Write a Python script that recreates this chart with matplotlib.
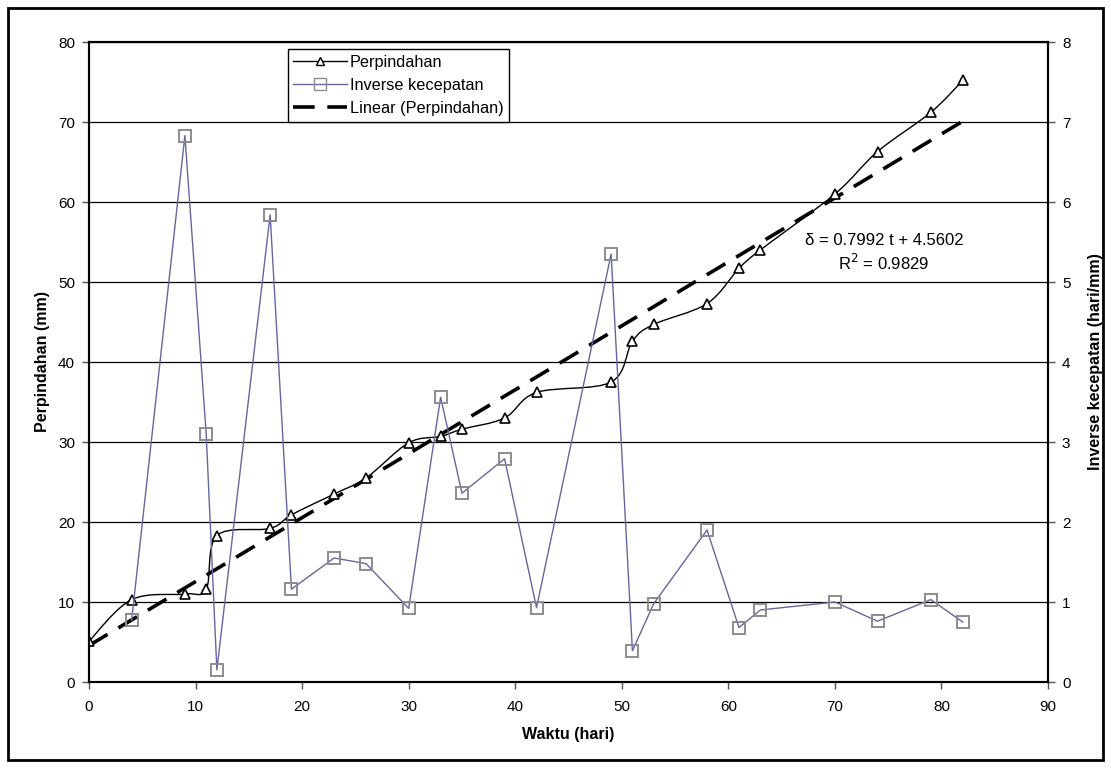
import matplotlib
matplotlib.use("Agg")
import matplotlib.pyplot as plt
import numpy as np
from matplotlib.path import Path
from matplotlib.patches import PathPatch, Rectangle
from matplotlib.lines import Line2D

plt.rcParams['font.family'] = ['Liberation Sans', 'DejaVu Sans']

# Data
t_perp = [0, 4, 9, 11, 12, 17, 19, 23, 26, 30, 33, 35, 39, 42, 49, 51, 53, 58, 61, 63, 70, 74, 79, 82]
perpindahan = [5.1, 10.3, 11.0, 11.6, 18.3, 19.2, 20.9, 23.5, 25.5, 29.9, 30.7, 31.6, 33.0, 36.2,
               37.5, 42.6, 44.7, 47.3, 51.7, 54.0, 61.0, 66.3, 71.2, 75.2]
t_inv = [4, 9, 11, 12, 17, 19, 23, 26, 30, 33, 35, 39, 42, 49, 51, 53, 58, 61, 63, 70, 74, 79, 82]
inverse_kecepatan = [0.77, 6.83, 3.10, 0.15, 5.84, 1.16, 1.55, 1.48, 0.92, 3.56, 2.36, 2.79, 0.93,
                     5.35, 0.39, 0.98, 1.90, 0.68, 0.90, 1.00, 0.76, 1.03, 0.75]
slope, intercept = 0.7992, 4.5602
trend_t = [0, 82]

fig = plt.figure(figsize=(11.11, 7.68), dpi=100)
ax = fig.add_axes([89/1111, 86/768, 959/1111, 640/768])
ax2 = ax.twinx()

# outer chart border
fig.patches.append(Rectangle((8/1111, 8/768), 1095/1111, 752/768, transform=fig.transFigure,
                             fill=False, edgecolor='black', linewidth=2.0))

ax.set_xlim(0, 90)
ax.set_ylim(0, 80)
ax2.set_ylim(0, 8)
ax.set_xticks(np.arange(0, 91, 10))
ax.set_yticks(np.arange(0, 81, 10))
ax2.set_yticks(np.arange(0, 9, 1))
ax.grid(axis='y', color='black', linewidth=0.9)
ax.set_axisbelow(True)

# smoothed Perpindahan line (Catmull-Rom style Bezier, like Excel smoothing)
x = np.array(t_perp, float); y = np.array(perpindahan, float)
n = len(x)
verts = [(x[0], y[0])]; codes = [Path.MOVETO]
for i in range(n - 1):
    p0 = np.array([x[max(i-1, 0)], y[max(i-1, 0)]])
    p1 = np.array([x[i], y[i]])
    p2 = np.array([x[i+1], y[i+1]])
    p3 = np.array([x[min(i+2, n-1)], y[min(i+2, n-1)]])
    c1 = p1 + (p2 - p0) / 6
    c2 = p2 - (p3 - p1) / 6
    verts += [tuple(c1), tuple(c2), tuple(p2)]
    codes += [Path.CURVE4] * 3
ax.add_patch(PathPatch(Path(verts, codes), fill=False, edgecolor='black', linewidth=1.0, zorder=3))
ax.plot(t_perp, perpindahan, linestyle='none', marker='^', markersize=7.5, markerfacecolor='white',
        markeredgecolor='black', markeredgewidth=1.2, zorder=4)

# trend line
ax.plot(trend_t, [slope * v + intercept for v in trend_t], color='black', linewidth=2.6,
        dashes=(6, 3.5), zorder=3)

# Inverse kecepatan
ax2.plot(t_inv, inverse_kecepatan, color='#6666A0', linewidth=1.0, marker='s', markersize=9,
         markerfacecolor='none', markeredgecolor='#8C8C8C', markeredgewidth=1.4, zorder=3)

# legend
handles = [
    Line2D([], [], color='black', linewidth=1.0, marker='^', markersize=6, markerfacecolor='white', markeredgecolor='black'),
    Line2D([], [], color='#6666A0', linewidth=1.0, marker='s', markersize=8, markerfacecolor='none', markeredgecolor='#8C8C8C'),
    Line2D([], [], color='black', linewidth=2.6, dashes=(6, 3.5)),
]
leg = ax.legend(handles, ['Perpindahan', 'Inverse kecepatan', 'Linear (Perpindahan)'],
                loc='upper left', bbox_to_anchor=(0.207, 0.989), fontsize=11.7, frameon=True,
                fancybox=False, edgecolor='black', framealpha=1, borderpad=0.35,
                handlelength=3.3, handletextpad=0.2, labelspacing=0.5, borderaxespad=0)
leg.get_frame().set_linewidth(1.0)

ax.text(74.6, 55.2, 'δ = 0.7992 t + 4.5602', ha='center', va='center', fontsize=12)
ax.text(74.6, 52.4, 'R$^2$ = 0.9829', ha='center', va='center', fontsize=12)

for a in (ax, ax2):
    for s in a.spines.values():
        s.set_linewidth(1.5)
    a.tick_params(labelsize=11, length=5, width=1, direction='out', color='#555555', pad=5)
ax.tick_params(axis='x', pad=8)

ax.set_xlabel('Waktu (hari)', fontsize=11.5, fontweight='bold', labelpad=9)
ax.set_ylabel('Perpindahan (mm)', fontsize=11.5, fontweight='bold', labelpad=5.5)
ax2.set_ylabel('Inverse kecepatan (hari/mm)', fontsize=11.5, fontweight='bold', labelpad=13)

fig.savefig('out.png', dpi=100)
